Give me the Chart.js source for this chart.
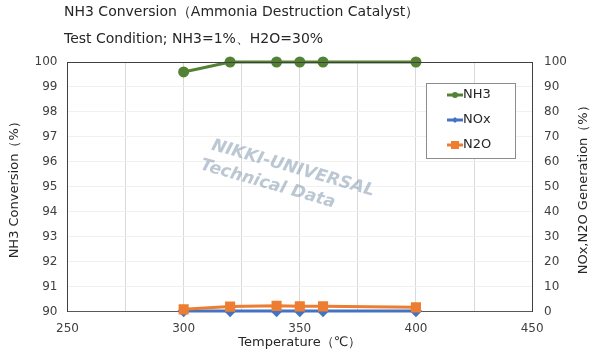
<!DOCTYPE html>
<html>
<head>
<meta charset="utf-8">
<script src="https://cdn.jsdelivr.net/npm/chart.js@4/dist/chart.umd.min.js"></script>
<style>
  body { margin: 0; background: #fff; }
  #wrap { width: 597px; height: 352px; position: relative; }
</style>
</head>
<body>
<div id="wrap"><canvas id="chart"></canvas></div>
<script>
// 温度 (℃)
var temps = [300, 320, 340, 350, 360, 400];
var nh3 = [99.6, 100, 100, 100, 100, 100];   // 左軸
var nox = [0.2, 0.2, 0.2, 0.2, 0.2, 0.2];    // 右軸
var n2o = [0.9, 2.0, 2.3, 2.1, 2.1, 1.7];    // 右軸

var titleText = 'NH3 Conversion（Ammonia Destruction Catalyst）';
var subText = 'Test Condition; NH3=1%、H2O=30%';
var xTitle = 'Temperature（℃）';
var rightTitle = 'NOx,N2O Generation（%）';
var fontFam = '"DejaVu Sans", sans-serif';

function pts(ys) {
  return temps.map(function(t, i) { return { x: t, y: ys[i] }; });
}

// タイトル・枠・凡例・透かし
var extras = {
  id: 'extras',
  beforeDatasetsDraw: function(chart) {
    var c = chart.ctx;
    c.save();
    c.translate(290, 179);
    c.rotate(16 * Math.PI / 180);
    c.fillStyle = 'rgba(120,145,170,0.5)';
    c.font = 'italic bold 17px ' + fontFam;
    c.textAlign = 'center';
    c.textBaseline = 'middle';
    c.fillText('NIKKI-UNIVERSAL', 0, -11);
    c.fillText('Technical Data', -20, 11);
    c.restore();
  },
  afterDraw: function(chart) {
    var c = chart.ctx, a = chart.chartArea;
    c.save();
    c.strokeStyle = '#404040';
    c.lineWidth = 1;
    c.beginPath();
    c.moveTo(a.left, a.top + 0.5);
    c.lineTo(a.right, a.top + 0.5);
    c.stroke();

    c.fillStyle = '#262626';
    c.font = '14px ' + fontFam;
    c.textBaseline = 'middle';
    c.fillText(titleText, 64, 12);
    c.fillText(subText, 64, 39);

    c.textAlign = 'center';
    c.font = '13px ' + fontFam;
    c.fillText(xTitle, (a.left + a.right) / 2, 343);

    // 右軸タイトル (下から上へ)
    c.save();
    c.translate(584, (a.top + a.bottom) / 2);
    c.rotate(-Math.PI / 2);
    c.fillText(rightTitle, 0, 0);
    c.restore();

    // 凡例
    c.textAlign = 'left';
    var bx = 426, by = 83, bw = 89, bh = 75;
    c.fillStyle = '#fff';
    c.fillRect(bx, by, bw, bh);
    c.strokeStyle = '#8c8c8c';
    c.lineWidth = 1;
    c.strokeRect(bx + 0.5, by + 0.5, bw, bh);
    chart.data.datasets.forEach(function(ds, i) {
      var y = by + 12 + i * 25, x0 = bx + 21, x1 = bx + 37;
      c.strokeStyle = ds.borderColor;
      c.lineWidth = 3;
      c.beginPath(); c.moveTo(x0, y); c.lineTo(x1, y); c.stroke();
      c.fillStyle = ds.backgroundColor;
      var m = (x0 + x1) / 2;
      if (ds.pointStyle === 'rect') c.fillRect(m - 4, y - 4, 8, 8);
      else if (ds.pointStyle === 'rectRot') {
        c.beginPath(); c.moveTo(m, y - 3); c.lineTo(m + 3, y); c.lineTo(m, y + 3); c.lineTo(m - 3, y); c.fill();
      } else { c.beginPath(); c.arc(m, y, 3, 0, Math.PI * 2); c.fill(); }
      c.fillStyle = '#262626';
      c.font = '13px ' + fontFam;
      c.textBaseline = 'middle';
      c.fillText(ds.label, x1, y);
    });
    c.restore();
  }
};

new Chart(document.getElementById('chart'), {
  type: 'line',
  data: {
    datasets: [{
      label: 'NH3', data: pts(nh3), yAxisID: 'y',
      borderColor: '#548235', backgroundColor: '#548235',
      borderWidth: 3, pointStyle: 'circle', pointRadius: 4,
      clip: false, order: 0
    }, {
      label: 'NOx', data: pts(nox), yAxisID: 'y2',
      borderColor: '#4472C4', backgroundColor: '#4472C4',
      borderWidth: 3, pointStyle: 'rectRot', pointRadius: 4,
      clip: false, order: 2
    }, {
      label: 'N2O', data: pts(n2o), yAxisID: 'y2',
      borderColor: '#ED7D31', backgroundColor: '#ED7D31',
      borderWidth: 3, pointStyle: 'rect', pointRadius: 5,
      clip: false, order: 1
    }]
  },
  options: {
    responsive: true,
    maintainAspectRatio: false,
    animation: false,
    layout: { padding: { top: 62, left: 7, right: 18, bottom: 6 } },
    plugins: { legend: { display: false }, tooltip: { enabled: false } },
    scales: {
      x: {
        type: 'linear', min: 250, max: 450,
        ticks: {
          stepSize: 25, color: '#404040', font: { size: 12, family: fontFam },
          autoSkip: false, maxRotation: 0, padding: 10,
          callback: function(v) { return v % 50 === 0 ? v : ''; }
        },
        grid: { color: '#d9d9d9', drawTicks: false },
        border: { color: '#595959' }
      },
      y: {
        position: 'left', min: 90, max: 100,
        ticks: { stepSize: 1, color: '#404040', font: { size: 12, family: fontFam }, padding: 10 },
        grid: { color: '#f0f0f0', drawTicks: false },
        border: { color: '#404040' },
        title: { display: true, text: 'NH3 Conversion（%）', color: '#262626', font: { size: 13, family: fontFam }, padding: { top: 0, bottom: 2 } }
      },
      y2: {
        position: 'right', min: 0, max: 100,
        ticks: { stepSize: 10, color: '#404040', font: { size: 12, family: fontFam }, padding: 12 },
        grid: { drawOnChartArea: false, drawTicks: false },
        border: { color: '#404040' }
      }
    }
  },
  plugins: [extras]
});
</script>
</body>
</html>
